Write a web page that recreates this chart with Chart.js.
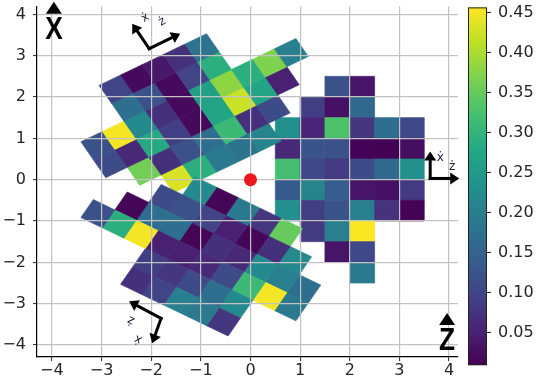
<!DOCTYPE html>
<html>
<head>
<meta charset="utf-8">
<script src="https://cdn.jsdelivr.net/npm/chart.js@4.4.0/dist/chart.umd.min.js"></script>
<style>
  html, body { margin: 0; padding: 0; background: #fff; }
</style>
</head>
<body>
<canvas id="chart" width="542" height="390"></canvas>
<script>
// Axis ticks
const xTicks = [-4, -3, -2, -1, 0, 1, 2, 3, 4];
const yTicks = [-4, -3, -2, -1, 0, 1, 2, 3, 4];
const cbTicks = [0.05, 0.10, 0.15, 0.20, 0.25, 0.30, 0.35, 0.40, 0.45];

// Colour range of the colour bar
const vMin = 0.009;
const vMax = 0.456;

// Pad layout (local frame of the unrotated pad): cell centres and first used column per row
const cellSize = 0.5;
const colX = [0.75, 1.25, 1.75, 2.25, 2.75, 3.25];
const rowY = [2.25, 1.75, 1.25, 0.75, 0.25, -0.25, -0.75, -1.25, -1.75, -2.25];
const rowStart = [2, 1, 0, 0, 0, 0, 0, 1, 2, 3];

// Pad rotations about the origin (degrees)
const padAngles = [0, 120, 240];

// Cell values, row by row, starting at rowStart
const padRight = [
    [0.12, 0.035],
    [0.09, 0.03, 0.16],
    [0.23, 0.055, 0.33, 0.08, 0.17, 0.105],
    [0.06, 0.125, 0.12, 0.012, 0.01, 0.025],
    [0.32, 0.105, 0.085, 0.11, 0.16, 0.23],
    [0.135, 0.21, 0.14, 0.035, 0.03, 0.085],
    [0.23, 0.09, 0.125, 0.20, 0.075, 0.012],
    [0.085, 0.20, 0.455],
    [0.035, 0.105],
    [0.19]
];
const padTopLeft = [
    [0.11, 0.12],
    [0.36, 0.06, 0.45],
    [0.43, 0.07, 0.28, 0.22, 0.17, 0.10],
    [0.29, 0.12, 0.09, 0.07, 0.12, 0.02],
    [0.19, 0.17, 0.02, 0.02, 0.02, 0.04],
    [0.18, 0.31, 0.27, 0.26, 0.10, 0.07],
    [0.21, 0.07, 0.42, 0.38, 0.29, 0.18],
    [0.11, 0.27, 0.29],
    [0.05, 0.37],
    [0.20]
];
const padBottomLeft = [
    [0.17, 0.19],
    [0.22, 0.20, 0.45],
    [0.35, 0.07, 0.22, 0.31, 0.22, 0.08],
    [0.08, 0.015, 0.06, 0.11, 0.17, 0.19],
    [0.19, 0.05, 0.07, 0.06, 0.11, 0.20],
    [0.015, 0.10, 0.015, 0.05, 0.08, 0.10],
    [0.22, 0.12, 0.17, 0.05, 0.09, 0.07],
    [0.11, 0.17, 0.45],
    [0.015, 0.29],
    [0.12]
];
const pads = [padRight, padTopLeft, padBottomLeft];

const originPoint = [0, 0];

// viridis
const viridisStops = ['#440154', '#482475', '#414487', '#355f8d', '#2a788e', '#21918c',
    '#22a884', '#44bf70', '#7ad151', '#bddf26', '#fde725'];

function hexToRgb(h) {
    return [parseInt(h.slice(1, 3), 16), parseInt(h.slice(3, 5), 16), parseInt(h.slice(5, 7), 16)];
}

function viridis(t) {
    t = Math.max(0, Math.min(1, t));
    const n = viridisStops.length - 1;
    const i = Math.min(n - 1, Math.floor(t * n));
    const f = t * n - i;
    const a = hexToRgb(viridisStops[i]), b = hexToRgb(viridisStops[i + 1]);
    const c = a.map((v, k) => Math.round(v + (b[k] - v) * f));
    return `rgb(${c[0]},${c[1]},${c[2]})`;
}

function colorFor(v) {
    return viridis((v - vMin) / (vMax - vMin));
}

// Cells, drawn under the grid
const cellsPlugin = {
    id: 'cells',
    beforeDraw(chart) {
        const { ctx, scales: { x, y } } = chart;
        const h = cellSize / 2;
        ctx.save();
        pads.forEach((pad, k) => {
            const a = padAngles[k] * Math.PI / 180;
            const c = Math.cos(a), s = Math.sin(a);
            pad.forEach((row, r) => {
                row.forEach((v, i) => {
                    const cx = colX[rowStart[r] + i], cy = rowY[r];
                    const corners = [[cx - h, cy - h], [cx + h, cy - h], [cx + h, cy + h], [cx - h, cy + h]]
                        .map(([px, py]) => [x.getPixelForValue(px * c - py * s), y.getPixelForValue(px * s + py * c)]);
                    const col = colorFor(v);
                    ctx.fillStyle = col;
                    ctx.strokeStyle = col;
                    ctx.lineWidth = 0.7;
                    ctx.beginPath();
                    corners.forEach(([px, py], j) => j ? ctx.lineTo(px, py) : ctx.moveTo(px, py));
                    ctx.closePath();
                    ctx.fill();
                    ctx.stroke();
                });
            });
        });
        ctx.restore();
    }
};

function arrow(ctx, x0, y0, x1, y1, head, w) {
    const ang = Math.atan2(y1 - y0, x1 - x0);
    const bx = x1 - head * Math.cos(ang), by = y1 - head * Math.sin(ang);
    ctx.beginPath();
    ctx.moveTo(x0, y0);
    ctx.lineTo(bx, by);
    ctx.stroke();
    ctx.beginPath();
    ctx.moveTo(x1, y1);
    ctx.lineTo(bx + w * Math.sin(ang), by - w * Math.cos(ang));
    ctx.lineTo(bx - w * Math.sin(ang), by + w * Math.cos(ang));
    ctx.closePath();
    ctx.fill();
}

// small L-shaped frame: two arrows from the corner, labels x-dot and z-dot
function frameIcon(ctx, cx, cy, t1, t2, l1, l2, rot) {
    ctx.save();
    ctx.strokeStyle = '#000';
    ctx.fillStyle = '#000';
    ctx.lineWidth = 3;
    ctx.lineCap = 'square';
    arrow(ctx, cx, cy, cx + t1[0], cy + t1[1], 9, 6);
    arrow(ctx, cx, cy, cx + t2[0], cy + t2[1], 9, 6);
    ctx.fillStyle = '#1c1c3c';
    ctx.font = '12px "DejaVu Sans"';
    ctx.textAlign = 'center';
    ctx.textBaseline = 'middle';
    [['\u1E8B', l1], ['\u017C', l2]].forEach(([t, p]) => {
        ctx.save();
        ctx.translate(cx + p[0], cy + p[1]);
        ctx.rotate(rot * Math.PI / 180);
        ctx.fillText(t, 0, 0);
        ctx.restore();
    });
    ctx.restore();
}

function bigLetter(ctx, text, px, py) {
    ctx.save();
    ctx.fillStyle = '#000';
    // arrow head above the letter
    ctx.beginPath();
    ctx.moveTo(px, py - 27);
    ctx.lineTo(px + 8, py - 15);
    ctx.lineTo(px - 8, py - 15);
    ctx.closePath();
    ctx.fill();
    ctx.translate(px, py);
    ctx.scale(0.82, 1);
    ctx.font = 'bold 32px "Liberation Sans"';
    ctx.textAlign = 'center';
    ctx.textBaseline = 'middle';
    ctx.fillText(text, 0, 1);
    ctx.restore();
}

// Colour bar and annotations
const overlayPlugin = {
    id: 'overlay',
    afterDraw(chart) {
        const { ctx, scales: { x, y, cb } } = chart;
        // colour bar
        const left = 468, right = 487;
        const top = cb.getPixelForValue(vMax), bottom = cb.getPixelForValue(vMin);
        const grad = ctx.createLinearGradient(0, bottom, 0, top);
        viridisStops.forEach((c, i) => grad.addColorStop(i / (viridisStops.length - 1), c));
        ctx.save();
        ctx.fillStyle = grad;
        ctx.fillRect(left, top, right - left, bottom - top);
        ctx.strokeStyle = '#222';
        ctx.lineWidth = 1;
        ctx.strokeRect(left + 0.5, top + 0.5, right - left - 1, bottom - top - 1);
        ctx.fillStyle = '#262626';
        ctx.font = '16px "DejaVu Sans"';
        ctx.textAlign = 'left';
        ctx.textBaseline = 'middle';
        cbTicks.forEach(v => {
            const py = Math.round(cb.getPixelForValue(v)) + 0.5;
            ctx.beginPath();
            ctx.moveTo(right, py);
            ctx.lineTo(right + 4, py);
            ctx.stroke();
            ctx.fillText(v.toFixed(2), right + 11, py);
        });
        ctx.restore();

        // axis letters
        bigLetter(ctx, 'X', x.getPixelForValue(-3.96), y.getPixelForValue(3.65));
        bigLetter(ctx, 'Z', x.getPixelForValue(3.96), y.getPixelForValue(-3.88));

        // local frames of the pads
        frameIcon(ctx, x.getPixelForValue(3.62), y.getPixelForValue(0.03), [0, -27], [29, 0], [10, -21], [22, -12], 0);
        frameIcon(ctx, x.getPixelForValue(-2.04), y.getPixelForValue(3.17), [-17, -25], [31, -15], [-4, -31], [13, -27], -30);
        frameIcon(ctx, x.getPixelForValue(-1.80), y.getPixelForValue(-3.355), [-32, -17], [-9, 25], [-23, 21], [-30, 2], -155);
    }
};

const minus = v => String(v).replace('-', '\u2212');

const axisCommon = {
    type: 'linear',
    grid: { color: '#c2c2c2', lineWidth: 1.2, tickColor: '#262626', tickLength: 4, tickWidth: 1 },
    border: { color: '#000', width: 1.2 },
    ticks: { color: '#262626', font: { family: 'DejaVu Sans', size: 16 }, callback: minus }
};

new Chart(document.getElementById('chart').getContext('2d'), {
    type: 'scatter',
    data: {
        datasets: [{
            data: [{ x: originPoint[0], y: originPoint[1] }],
            backgroundColor: 'rgb(236,24,30)',
            pointRadius: 6.5,
            borderWidth: 0
        }]
    },
    options: {
        responsive: false,
        animation: false,
        devicePixelRatio: 1,
        layout: { padding: { top: 6, right: 84, left: 0, bottom: 0 } },
        plugins: { legend: { display: false }, tooltip: { enabled: false } },
        scales: {
            x: {
                ...axisCommon,
                min: -4.3,
                max: 4.18,
                afterBuildTicks: axis => { axis.ticks = xTicks.map(v => ({ value: v })); },
                afterFit: axis => { axis.height = 33; axis.paddingLeft = 0; axis.paddingRight = 0; },
                ticks: { ...axisCommon.ticks, padding: 0, maxRotation: 0 }
            },
            y: {
                ...axisCommon,
                min: -4.29,
                max: 4.19,
                afterBuildTicks: axis => { axis.ticks = yTicks.map(v => ({ value: v })); },
                afterFit: axis => { axis.width = 37; axis.paddingTop = 0; axis.paddingBottom = 0; },
                ticks: { ...axisCommon.ticks, padding: 7 }
            },
            cb: {
                type: 'linear',
                position: 'right',
                display: false,
                min: 0.0192,
                max: 0.4571
            }
        }
    },
    plugins: [cellsPlugin, overlayPlugin]
});
</script>
</body>
</html>
